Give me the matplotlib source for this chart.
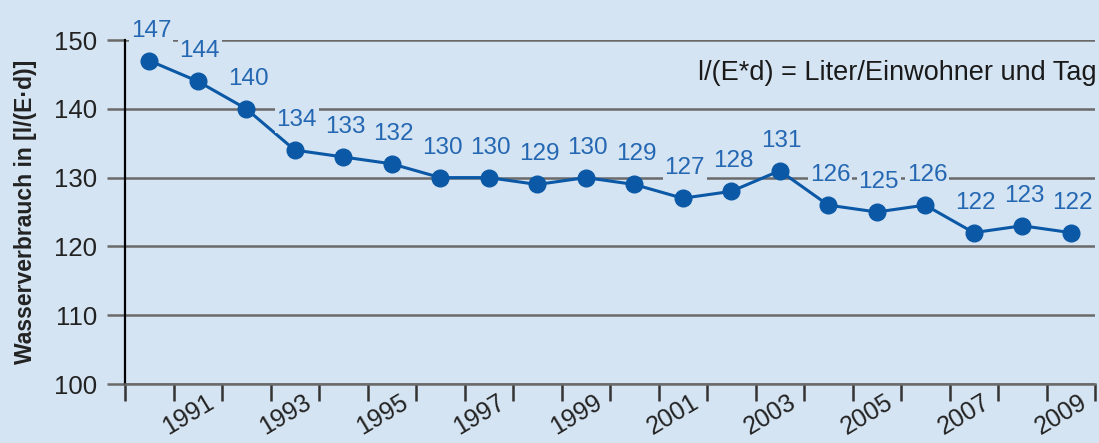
import matplotlib
matplotlib.use("Agg")
import matplotlib.pyplot as plt

years = list(range(1990, 2010))
values = [147, 144, 140, 134, 133, 132, 130, 130, 129, 130,
          129, 127, 128, 131, 126, 125, 126, 122, 123, 122]
label_years = [y for y in years if y % 2 == 1]
y_ticks = [100, 110, 120, 130, 140, 150]

FONT = "Liberation Sans"
BG = "#d5e4f2"
LINE = "#0a58a6"
LABEL = "#2467b2"
GRID = "#6a6a6a"

W, H = 1099, 443
fig = plt.figure(figsize=(W / 100, H / 100), dpi=100, facecolor=BG)
ax = fig.add_axes([125 / W, 1 - 384 / H, (1095 - 125) / W, (384 - 40) / H])
ax.set_facecolor(BG)

x = list(range(len(years)))
ax.plot(x, values, color=LINE, lw=2.2, marker="o", ms=12, zorder=4, clip_on=False)

for xi, v in zip(x, values):
    ax.annotate(str(v), (xi, v), xytext=(2, 30), textcoords="offset pixels",
                ha="center", va="center", fontsize=17.5, family=FONT, color=LABEL,
                zorder=5,
                bbox=dict(boxstyle="square,pad=0.08", fc=BG, ec="none"))

ax.set_xlim(-0.5, len(years) - 0.5)
ax.set_ylim(100, 150)
ax.set_yticks(y_ticks)
ax.set_yticklabels([str(t) for t in y_ticks], fontsize=18.5, family=FONT, color="#222222")
ax.yaxis.grid(True, color=GRID, lw=1.8, zorder=1)
ax.set_axisbelow(True)
ax.tick_params(axis="y", length=13, width=1.8, color=GRID, pad=7)

ax.set_xticks([i - 0.5 for i in range(len(years) + 1)])
ax.set_xticklabels([])
ax.tick_params(axis="x", length=12, width=1.8, color="#333333")

for yr in label_years:
    i = years.index(yr)
    ax.annotate(str(yr), xy=(i, 0), xycoords=("data", "axes fraction"),
                xytext=(8, -6), textcoords="offset pixels",
                ha="right", va="top", rotation=31, rotation_mode="anchor",
                fontsize=18, family=FONT, color="#222222", annotation_clip=False)

for s in ["top", "right"]:
    ax.spines[s].set_visible(False)
ax.spines["left"].set_color("black")
ax.spines["left"].set_linewidth(1.6)
ax.spines["left"].set_bounds(100, 150)
ax.spines["bottom"].set_color(GRID)
ax.spines["bottom"].set_linewidth(1.8)

ax.set_ylabel("Wasserverbrauch in [l/(E·d)]", fontsize=16.5, family=FONT,
              fontweight="bold", color="#222222")
ax.yaxis.set_label_coords(-88 / 970, 0.5)

fig.text(1097 / W, 1 - 73 / H, "l/(E*d) = Liter/Einwohner und Tag", ha="right", va="center",
         fontsize=19.5, family=FONT, color="#1a1a1a")

fig.savefig("out.png", dpi=100, facecolor=BG)
